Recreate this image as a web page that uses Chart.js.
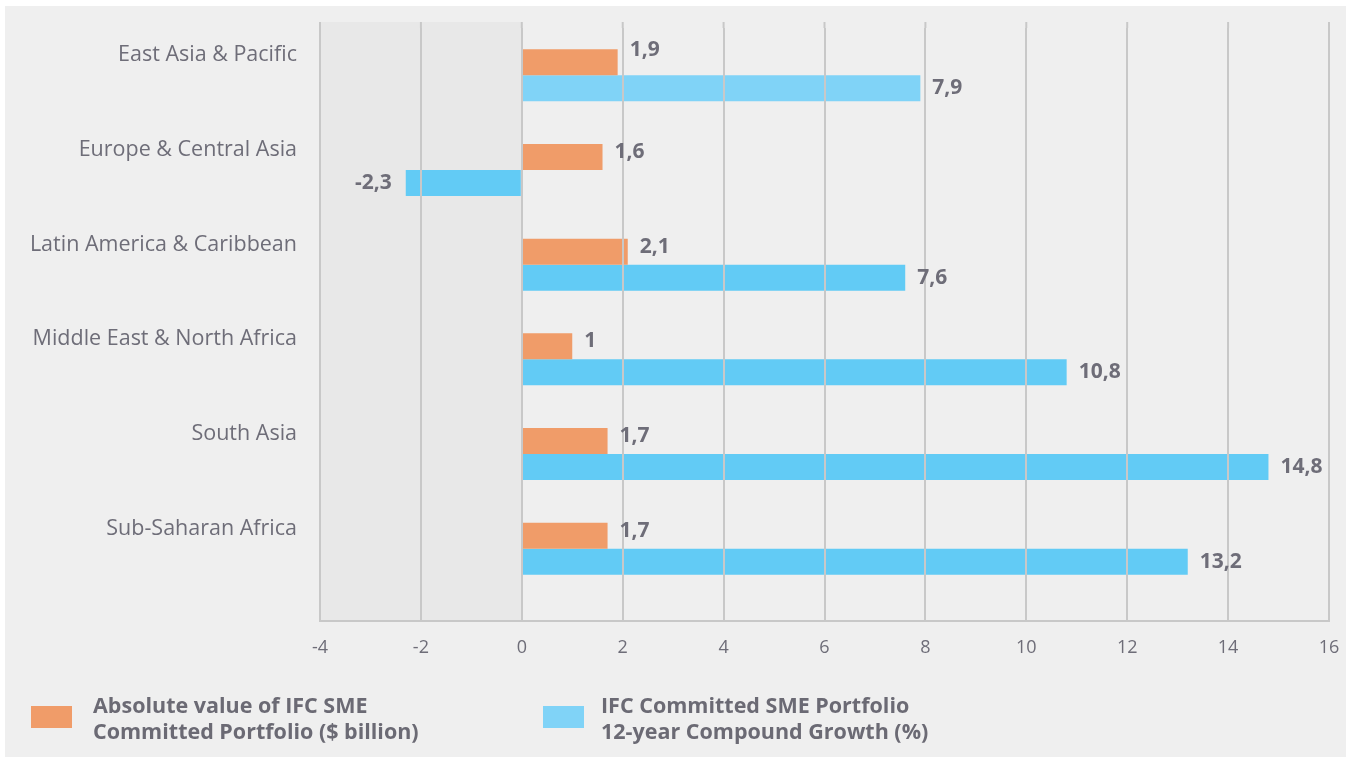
<!DOCTYPE html>
<html>
<head>
<meta charset="utf-8">
<script src="https://cdn.jsdelivr.net/npm/chart.js@4/dist/chart.umd.min.js"></script>
<style>
  html, body { margin: 0; padding: 0; background: #ffffff; }
  #wrap { position: relative; width: 1351px; height: 759px; }
  #legend { position: absolute; left: 0; top: 692px; font-family: "Open Sans", sans-serif; font-weight: bold; font-size: 21.5px; color: #6b6a74; line-height: 26px; }
  .item { position: absolute; top: 0; white-space: nowrap; }
  .box { position: absolute; width: 41px; height: 22px; top: 14px; }
  .txt { position: absolute; top: 0; }
</style>
</head>
<body>
<div id="wrap">
  <canvas id="bar-chart" width="1351" height="759"></canvas>
  <div id="legend"></div>
</div>
<script>
const regions = ['East Asia & Pacific', 'Europe & Central Asia', 'Latin America & Caribbean', 'Middle East & North Africa', 'South Asia', 'Sub-Saharan Africa'];
const portfolioValue = [1.9, 1.6, 2.1, 1.0, 1.7, 1.7];
const compoundGrowth = [7.9, -2.3, 7.6, 10.8, 14.8, 13.2];
const seriesNames = [
  ['Absolute value of IFC SME', 'Committed Portfolio ($ billion)'],
  ['IFC Committed SME Portfolio', '12-year Compound Growth (%)']
];
const xMin = -4, xMax = 16, xStep = 2;

const orange = '#f09c69';
const blueLight = '#80d3f7';
const blue = '#62cbf5';
const textColor = '#6e6d78';

// background panel + shaded negative side
const backdrop = {
  id: 'backdrop',
  beforeDraw(chart) {
    const c = chart.ctx;
    c.save();
    c.fillStyle = '#ffffff';
    c.fillRect(0, 0, chart.width, chart.height);
    c.fillStyle = '#efefef';
    c.fillRect(5, 6, 1341, 751);
    // negative side is a bit darker
    const x = chart.scales.x, area = chart.chartArea;
    c.fillStyle = '#e8e8e8';
    const l = x.getPixelForValue(xMin), r = x.getPixelForValue(0);
    c.fillRect(l, area.top - 6, r - l, area.bottom + 25 - (area.top - 6));
    c.restore();
  },
  afterDraw(chart) {
    const c = chart.ctx, x = chart.scales.x;
    const area = chart.chartArea;
    c.save();
    c.strokeStyle = '#c8c8c8';
    c.lineWidth = 2;
    // extend grid a little above the plot and draw the base line
    for (let v = xMin; v <= xMax; v += xStep) {
      const px = x.getPixelForValue(v);
      c.beginPath();
      c.moveTo(px, area.top - 6);
      c.lineTo(px, area.top);
      c.stroke();
    }
    c.beginPath();
    c.moveTo(x.getPixelForValue(xMin) - 1, area.bottom + 25);
    c.lineTo(x.getPixelForValue(xMax) + 1, area.bottom + 25);
    c.stroke();

    // value labels
    c.font = 'bold 21px "Open Sans", sans-serif';
    c.fillStyle = textColor;
    c.textBaseline = 'middle';
    chart.data.datasets.forEach((ds, di) => {
      const meta = chart.getDatasetMeta(di);
      meta.data.forEach((bar, i) => {
        const v = ds.data[i];
        const txt = String(v).replace('.', ',');
        let dy = di === 0 ? -5 : 0;
        if (di === 0 && i === 0) dy = -12;
        if (v < 0) {
          c.textAlign = 'right';
          c.fillText(txt, bar.x - 14, bar.y + dy);
        } else {
          c.textAlign = 'left';
          c.fillText(txt, bar.x + 12, bar.y + dy);
        }
      });
    });
    c.restore();
  }
};

const ctx = document.getElementById('bar-chart').getContext('2d');

const chart = new Chart(ctx, {
  type: 'bar',
  data: {
    labels: regions,
    datasets: [
      {
        label: seriesNames[0].join(' '),
        data: portfolioValue,
        backgroundColor: orange,
        categoryPercentage: 0.55,
        barPercentage: 1.0
      },
      {
        label: seriesNames[1].join(' '),
        data: compoundGrowth,
        backgroundColor: compoundGrowth.map((v, i) => i === 0 ? blueLight : blue),
        categoryPercentage: 0.55,
        barPercentage: 1.0
      }
    ]
  },
  options: {
    indexAxis: 'y',
    responsive: false,
    animation: false,
    layout: { padding: { top: 28, right: 22, left: 0, bottom: 0 } },
    plugins: {
      legend: { display: false },
      tooltip: { enabled: false }
    },
    scales: {
      x: {
        min: xMin,
        max: xMax,
        ticks: {
          stepSize: xStep,
          color: textColor,
          padding: 0,
          font: { family: '"Open Sans", sans-serif', size: 18, lineHeight: 3 }
        },
        grid: { color: '#c8c8c8', lineWidth: 2, tickLength: 25, z: 1 },
        border: { display: false },
        afterFit: (s) => { s.height = 163; }
      },
      y: {
        grid: { display: false },
        border: { display: false },
        ticks: {
          color: textColor,
          padding: 15,
          labelOffset: -20,
          font: { family: '"Open Sans", sans-serif', size: 21.5 }
        },
        afterFit: (s) => { s.width = 320; }
      }
    }
  },
  plugins: [backdrop]
});

// legend
const legend = document.getElementById('legend');
const legendPos = [31, 543];
const legendColors = [orange, blueLight];
seriesNames.forEach((lines, i) => {
  const item = document.createElement('div');
  item.className = 'item';
  item.style.left = legendPos[i] + 'px';
  const box = document.createElement('div');
  box.className = 'box';
  box.style.left = '0px';
  box.style.background = legendColors[i];
  const txt = document.createElement('div');
  txt.className = 'txt';
  txt.style.left = (i === 0 ? 62 : 58) + 'px';
  txt.innerHTML = lines.join('<br>');
  item.appendChild(box);
  item.appendChild(txt);
  legend.appendChild(item);
});
</script>
</body>
</html>
